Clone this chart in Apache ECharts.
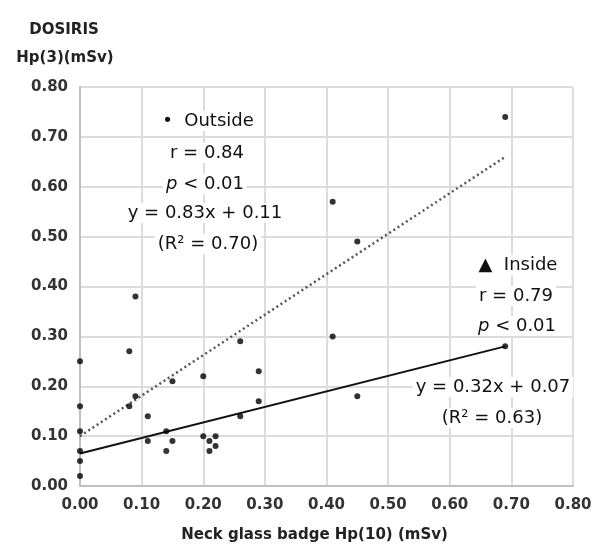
<!DOCTYPE html>
<html><head><meta charset="utf-8">
<script src="https://cdn.jsdelivr.net/npm/echarts@6/dist/echarts.min.js"></script>
<style>html,body{margin:0;padding:0;background:#fff}#c{width:593px;height:545px}</style>
</head><body><div id="c"></div>
<script>
const xTicks = [0,0.1,0.2,0.3,0.4,0.5,0.6,0.7,0.8];
const yTicks = [0,0.1,0.2,0.3,0.4,0.5,0.6,0.7,0.8];
const outsideX = [0,0,0,0.08,0.09,0.08,0.09,0.15,0.20,0.26,0.29,0.41,0.45,0.69];
const outsideY = [0.25,0.16,0.11,0.27,0.38,0.16,0.18,0.21,0.22,0.29,0.23,0.57,0.49,0.74];
const insideX = [0,0,0,0.11,0.11,0.14,0.14,0.15,0.20,0.21,0.21,0.22,0.22,0.26,0.29,0.41,0.45,0.69];
const insideY = [0.07,0.05,0.02,0.14,0.09,0.11,0.07,0.09,0.10,0.09,0.07,0.10,0.08,0.14,0.17,0.30,0.18,0.28];
const outsideTrendX = [0,0.69];
const outsideTrendY = [0.10,0.66];
const insideTrendX = [0,0.69];
const insideTrendY = [0.065,0.28];

const zip = (a,b)=>a.map((v,i)=>[v,b[i]]);
const chart = echarts.init(document.getElementById('c'));
const fam = '"DejaVu Sans", Verdana, sans-serif';
const T = (t,x,y,extra)=>({type:'text',x:x,y:y,z:100,style:Object.assign({text:t,font:'18px '+fam,fill:'#111',align:'center',verticalAlign:'middle',backgroundColor:'#fff',padding:[1,3]},extra||{})});
const P = (x,y)=>T('{i|p}{n| < 0.01}',x,y,{rich:{i:{font:'italic 18px '+fam,fill:'#111'},n:{font:'18px '+fam,fill:'#111'}}});
chart.setOption({
  animation:false,
  backgroundColor:'#fff',
  grid:{left:80,right:20,top:87,bottom:59,show:true,borderColor:'#d4d4d4',borderWidth:1,outerBoundsMode:'none',containLabel:false},
  xAxis:{type:'value',min:0,max:0.8,interval:0.1,
    axisLine:{show:true,lineStyle:{color:'#bfbfbf',width:2}},axisTick:{show:false},
    splitLine:{lineStyle:{color:'#dcdcdc',width:2}},
    axisLabel:{margin:12,color:'#333',fontSize:15,fontWeight:'bold',fontFamily:fam,formatter:v=>v.toFixed(2)},
    name:'Neck glass badge Hp(10) (mSv)',nameLocation:'middle',nameGap:42,
    nameTextStyle:{color:'#222',fontSize:15,fontWeight:'bold',fontFamily:fam,padding:[0,24,0,0]}},
  yAxis:{type:'value',min:0,max:0.8,interval:0.1,
    axisLine:{show:true,lineStyle:{color:'#bfbfbf',width:2}},axisTick:{show:false},
    splitLine:{lineStyle:{color:'#dcdcdc',width:2}},
    axisLabel:{margin:12,color:'#333',fontSize:15,fontWeight:'bold',fontFamily:fam,formatter:v=>v.toFixed(2)}},
  series:[
    {type:'scatter',name:'Outside',data:zip(outsideX,outsideY),symbol:'circle',symbolSize:6,itemStyle:{color:'#000'},z:5},
    {type:'scatter',name:'Inside',data:zip(insideX,insideY),symbol:'circle',symbolSize:6,itemStyle:{color:'#000'},z:5},
    {type:'line',data:zip(outsideTrendX,outsideTrendY),symbol:'none',lineStyle:{color:'#555',width:2.5,type:[2,3]}},
    {type:'line',data:zip(insideTrendX,insideTrendY),symbol:'none',lineStyle:{color:'#111',width:2}}
  ],
  graphic:[
    {type:'text',x:64,y:30,style:{text:'DOSIRIS',font:'bold 15px '+fam,fill:'#222',align:'center',verticalAlign:'middle'}},
    {type:'text',x:65,y:58,style:{text:'Hp(3)(mSv)',font:'bold 15px '+fam,fill:'#222',align:'center',verticalAlign:'middle'}},
    T('•  Outside',208,121),
    T('r = 0.84',207,153),
    P(205,184),
    T('y = 0.83x + 0.11',205,213),
    T('(R² = 0.70)',208,244),
    T('▲  Inside',518,265),
    T('r = 0.79',516,296),
    P(517,326),
    T('y = 0.32x + 0.07',493,387),
    T('(R² = 0.63)',492,418)
  ]
});
</script></body></html>
